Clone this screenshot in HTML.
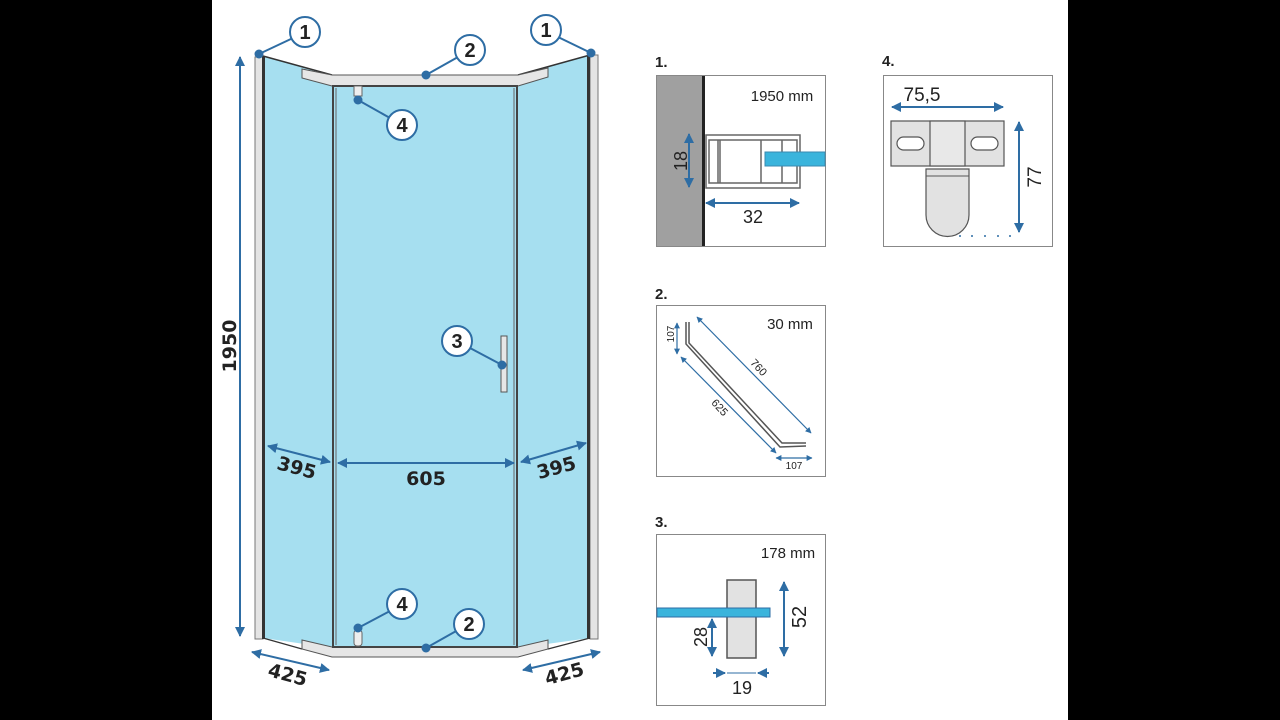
<!DOCTYPE html>
<html><head><meta charset="utf-8"><style>
html,body{margin:0;padding:0;background:#000;}
svg{display:block}
text{font-family:"Liberation Sans",sans-serif;}
.b{font-family:"DejaVu Sans","Liberation Sans",sans-serif;font-weight:bold;fill:#222;}
</style></head><body>
<svg width="1280" height="720" viewBox="0 0 1280 720" xmlns="http://www.w3.org/2000/svg">
<defs>
<marker id="a" viewBox="0 0 10 10" refX="9" refY="5" markerWidth="5" markerHeight="5" orient="auto-start-reverse"><path d="M0,0 L10,5 L0,10 z" fill="#2e6da4"/></marker>
</defs>
<rect x="0" y="0" width="1280" height="720" fill="#000"/>
<rect x="212" y="0" width="856" height="720" fill="#fff"/>

<!-- glass panels -->
<polygon points="263,56 332,76 332,648 263,638" fill="#a6dff0"/>
<polygon points="332,86 518,86 518,648 332,648" fill="#a6dff0"/>
<polygon points="518,76 590,55 590,638 518,648" fill="#a6dff0"/>
<!-- outer strips -->
<rect x="255" y="57" width="8" height="582" fill="#e4e4e4" stroke="#777" stroke-width="1"/>
<rect x="262" y="56" width="3" height="583" fill="#333"/>
<rect x="590" y="55" width="8" height="584" fill="#e4e4e4" stroke="#777" stroke-width="1"/>
<rect x="587" y="55" width="3" height="584" fill="#333"/>
<line x1="263" y1="56" x2="332" y2="75" stroke="#333" stroke-width="1.5"/>
<line x1="518" y1="75" x2="590" y2="55" stroke="#333" stroke-width="1.5"/>
<line x1="263" y1="638" x2="302" y2="649" stroke="#333" stroke-width="1.2"/>
<line x1="548" y1="649" x2="590" y2="638" stroke="#333" stroke-width="1.2"/>
<!-- top rail -->
<polygon points="302,69 332,75 518,75 548,68 548,77 518,86 332,86 302,78" fill="#e6e6e6" stroke="#555" stroke-width="1"/>
<!-- bottom rail -->
<polygon points="302,640 332,647 518,647 548,640 548,649 518,657 332,657 302,649" fill="#e6e6e6" stroke="#555" stroke-width="1"/>
<!-- door frame -->
<rect x="333" y="86" width="184" height="561" fill="none" stroke="#444" stroke-width="2"/>
<line x1="336" y1="88" x2="336" y2="645" stroke="#666" stroke-width="1"/>
<line x1="514" y1="88" x2="514" y2="645" stroke="#666" stroke-width="1"/>
<!-- hinges -->
<rect x="354" y="86" width="8" height="10" fill="#eee" stroke="#666"/>
<rect x="354" y="630" width="8" height="16" rx="3" fill="#eee" stroke="#666"/>
<!-- handle -->
<rect x="501" y="336" width="6" height="56" fill="#e6e6e6" stroke="#555"/>

<!-- dimensions -->
<g stroke="#2e6da4" stroke-width="2" fill="none" marker-start="url(#a)" marker-end="url(#a)">
<line x1="240" y1="57" x2="240" y2="636"/>
<line x1="268" y1="446" x2="330" y2="462"/>
<line x1="338" y1="463" x2="514" y2="463"/>
<line x1="521" y1="462" x2="586" y2="443"/>
<line x1="252" y1="652" x2="329" y2="670"/>
<line x1="523" y1="670" x2="600" y2="652"/>
</g>
<text class="b" font-size="19" transform="translate(236,346) rotate(-90)" text-anchor="middle">1950</text>
<text class="b" font-size="19" transform="translate(295,474) rotate(15)" text-anchor="middle">395</text>
<text class="b" font-size="19" x="426" y="485" text-anchor="middle">605</text>
<text class="b" font-size="19" transform="translate(558,474) rotate(-15)" text-anchor="middle">395</text>
<text class="b" font-size="19" transform="translate(286,681) rotate(15)" text-anchor="middle">425</text>
<text class="b" font-size="19" transform="translate(566,680) rotate(-15)" text-anchor="middle">425</text>

<!-- callouts -->
<g stroke="#2e6da4" stroke-width="2" fill="#fff">
<line x1="259" y1="54" x2="293" y2="38"/>
<line x1="426" y1="75" x2="458" y2="57"/>
<line x1="591" y1="53" x2="558" y2="37"/>
<line x1="358" y1="100" x2="390" y2="118"/>
<line x1="502" y1="365" x2="470" y2="348"/>
<line x1="358" y1="628" x2="390" y2="611"/>
<line x1="426" y1="648" x2="458" y2="630"/>
<circle cx="305" cy="32" r="15"/><circle cx="470" cy="50" r="15"/><circle cx="546" cy="30" r="15"/>
<circle cx="402" cy="125" r="15"/><circle cx="457" cy="341" r="15"/><circle cx="402" cy="604" r="15"/><circle cx="469" cy="624" r="15"/>
</g>
<g fill="#2e6da4"><circle cx="259" cy="54" r="4.5"/><circle cx="426" cy="75" r="4.5"/><circle cx="591" cy="53" r="4.5"/><circle cx="358" cy="100" r="4.5"/><circle cx="502" cy="365" r="4.5"/><circle cx="358" cy="628" r="4.5"/><circle cx="426" cy="648" r="4.5"/></g>
<g class="b" font-size="20" text-anchor="middle">
<text x="305" y="39">1</text><text x="470" y="57">2</text><text x="546" y="37">1</text><text x="402" y="132">4</text><text x="457" y="348">3</text><text x="402" y="611">4</text><text x="469" y="631">2</text>
</g>

<!-- detail labels -->
<g class="b" font-size="15"><text x="655" y="67">1.</text><text x="655" y="299">2.</text><text x="655" y="527">3.</text><text x="882" y="66">4.</text></g>

<!-- box 1 -->
<rect x="656.5" y="75.5" width="169" height="171" fill="#fff" stroke="#888"/>
<rect x="657" y="76" width="46" height="170" fill="#a0a0a0"/>
<rect x="702" y="76" width="3" height="170" fill="#222"/>
<text x="782" y="101" font-size="15" text-anchor="middle" fill="#222">1950 mm</text>
<g fill="none" stroke="#666" stroke-width="1.5">
<rect x="706" y="135" width="94" height="53"/>
<rect x="709" y="140" width="88" height="43"/>
<line x1="718" y1="140" x2="718" y2="183"/><line x1="761" y1="140" x2="761" y2="183"/>
<line x1="782" y1="140" x2="782" y2="183"/><line x1="720" y1="140" x2="720" y2="183"/>
</g>
<rect x="765" y="152" width="60" height="14" fill="#3ab4dc" stroke="#3a8ab0"/>
<g stroke="#2e6da4" stroke-width="2" marker-start="url(#a)" marker-end="url(#a)">
<line x1="689" y1="134" x2="689" y2="187"/><line x1="706" y1="203" x2="799" y2="203"/>
</g>
<text transform="translate(687,161) rotate(-90)" font-size="18" text-anchor="middle" fill="#222">18</text>
<text x="753" y="223" font-size="18" text-anchor="middle" fill="#222">32</text>

<!-- box 2 -->
<rect x="656.5" y="305.5" width="169" height="171" fill="#fff" stroke="#888"/>
<text x="790" y="329" font-size="15" text-anchor="middle" fill="#222">30 mm</text>
<g fill="none" stroke="#555" stroke-width="1.5">
<polyline points="686,322 686,344 780,447 806,446"/>
<polyline points="689,322 689,343 782,443 806,443"/>
</g>
<g stroke="#2e6da4" stroke-width="1.2" marker-start="url(#a)" marker-end="url(#a)">
<line x1="677" y1="323" x2="677" y2="354"/>
<line x1="697" y1="317" x2="811" y2="433"/>
<line x1="681" y1="357" x2="776" y2="453"/>
<line x1="776" y1="458" x2="812" y2="458"/>
</g>
<text transform="translate(674,334) rotate(-90)" font-size="10" text-anchor="middle" fill="#222">107</text>
<text transform="translate(756,370) rotate(47)" font-size="11" text-anchor="middle" fill="#222">760</text>
<text transform="translate(717,410) rotate(47)" font-size="11" text-anchor="middle" fill="#222">625</text>
<text x="794" y="469" font-size="10" text-anchor="middle" fill="#222">107</text>

<!-- box 3 -->
<rect x="656.5" y="534.5" width="169" height="171" fill="#fff" stroke="#888"/>
<text x="788" y="558" font-size="15" text-anchor="middle" fill="#222">178 mm</text>
<rect x="727" y="580" width="29" height="78" fill="#e2e2e2" stroke="#555" stroke-width="1.5"/>
<rect x="657" y="608" width="113" height="9" fill="#3ab4dc" stroke="#2e6da4"/>
<g stroke="#2e6da4" stroke-width="2" marker-start="url(#a)" marker-end="url(#a)">
<line x1="784" y1="582" x2="784" y2="656"/><line x1="712" y1="619" x2="712" y2="656"/>
</g>
<g stroke="#2e6da4" stroke-width="2" marker-end="url(#a)"><line x1="713" y1="673" x2="725" y2="673"/><line x1="769" y1="673" x2="758" y2="673"/></g>
<line x1="727" y1="673" x2="756" y2="673" stroke="#2e6da4" stroke-width="1"/>
<text transform="translate(806,617) rotate(-90)" font-size="20" text-anchor="middle" fill="#222">52</text>
<text transform="translate(707,637) rotate(-90)" font-size="18" text-anchor="middle" fill="#222">28</text>
<text x="742" y="694" font-size="18" text-anchor="middle" fill="#222">19</text>

<!-- box 4 -->
<rect x="883.5" y="75.5" width="169" height="171" fill="#fff" stroke="#888"/>
<g stroke="#2e6da4" stroke-width="2" marker-start="url(#a)" marker-end="url(#a)">
<line x1="892" y1="107" x2="1003" y2="107"/><line x1="1019" y1="122" x2="1019" y2="232"/>
</g>
<text x="922" y="101" font-size="19" text-anchor="middle" fill="#222">75,5</text>
<text transform="translate(1041,177) rotate(-90)" font-size="19" text-anchor="middle" fill="#222">77</text>
<rect x="891" y="121" width="113" height="45" fill="#e2e2e2" stroke="#555" stroke-width="1.2"/>
<rect x="930" y="121" width="35" height="45" fill="#e8e8e8" stroke="#555" stroke-width="1.2"/>
<rect x="897" y="137" width="27" height="13" rx="6.5" fill="#fff" stroke="#555" stroke-width="1.2"/>
<rect x="971" y="137" width="27" height="13" rx="6.5" fill="#fff" stroke="#555" stroke-width="1.2"/>
<path d="M926,169 L969,169 L969,215 A21.5,21.5 0 0 1 926,215 Z" fill="#e2e2e2" stroke="#555" stroke-width="1.2"/>
<line x1="926" y1="176" x2="969" y2="176" stroke="#555"/>
<g fill="#2e6da4"><circle cx="960" cy="236" r="1"/><circle cx="972" cy="236" r="1"/><circle cx="985" cy="236" r="1"/><circle cx="998" cy="236" r="1"/><circle cx="1010" cy="236" r="1"/></g>
</svg>
</body></html>
